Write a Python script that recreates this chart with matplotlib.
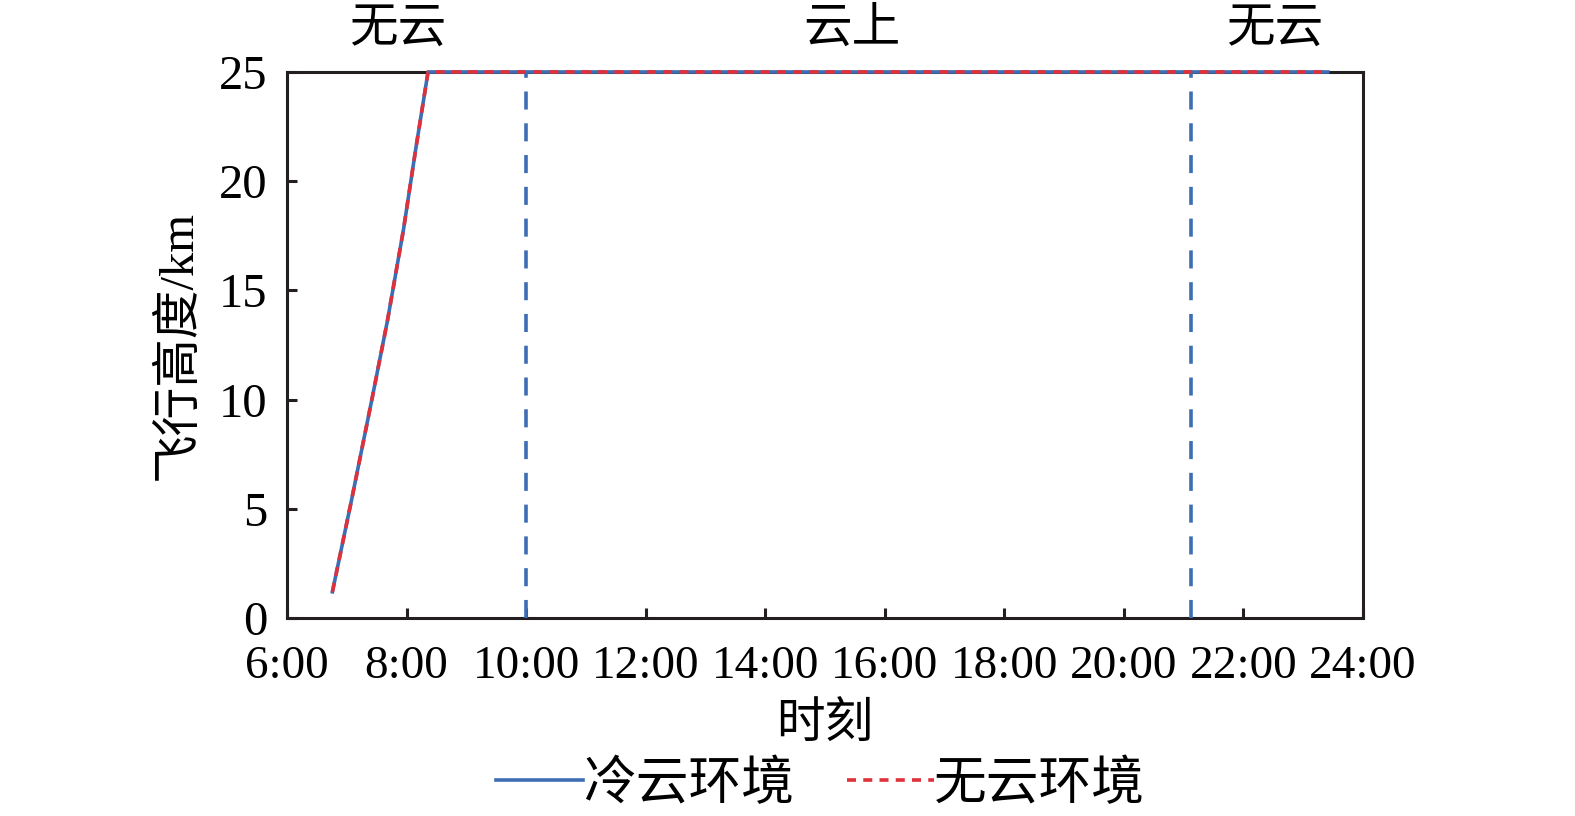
import numpy as np
import matplotlib
matplotlib.use("Agg")
import matplotlib.pyplot as plt

plt.rcParams['font.family'] = ['Liberation Serif', 'Noto Sans CJK SC']
plt.rcParams['axes.unicode_minus'] = False

# flight profile (time in hours, altitude in km)
time_h = [6.76, 7.08, 7.42, 7.68, 7.95, 8.15, 8.36, 23.41]
alt_cold = [1.2, 5.4, 10.0, 13.6, 17.8, 21.4, 25.0, 25.0]
alt_clear = [1.2, 5.4, 10.0, 13.6, 17.8, 21.4, 25.0, 25.0]

# boundaries between cloud regions
boundaries = [10.0, 21.13]
region_labels = ['无云', '云上', '无云']
region_x = [7.86, 15.45, 22.53]

xticks = [6, 8, 10, 12, 14, 16, 18, 20, 22, 24]
xticklabels = [f"{t}:00" for t in xticks]
yticks = [0, 5, 10, 15, 20, 25]

blue = '#3d6db3'
red = '#e0303a'

fig = plt.figure(figsize=(15.75, 8.16), dpi=100)
ax = fig.add_axes([0.1822, 0.2426, 0.6832, 0.6692])

ax.plot(time_h, alt_cold, color=blue, lw=2.6, ls='-', label='冷云环境',
        clip_on=False, zorder=4)
ax.plot(time_h, alt_clear, color=red, lw=2.6, ls=(0, (2.5, 2.0)), label='无云环境',
        clip_on=False, zorder=5)
for b in boundaries:
    ax.plot([b, b], [0, 25], color=blue, lw=2.6, ls=(0, (5, 3.8)), zorder=3)

ax.set_xlim(6, 24)
ax.set_ylim(0, 25)
ax.set_xticks(xticks)
ax.set_xticklabels(xticklabels)
ax.set_yticks(yticks)
ax.tick_params(direction='in', length=7, width=2.2, labelsize=35, color='#231f20')
ax.tick_params(axis='x', pad=20, labelsize=34)
ax.tick_params(axis='y', pad=14)
for s in ax.spines.values():
    s.set_linewidth(2.2)
    s.set_color('#231f20')

ax.set_xlabel('时刻', fontsize=35, va='center')
ax.xaxis.set_label_coords(0.5, -0.197)
ax.set_ylabel('飞行高度/km', fontsize=35, va='center')
ax.yaxis.set_label_coords(-0.101, 0.5)

trans = ax.get_xaxis_transform()
for x, lab in zip(region_x, region_labels):
    ax.text(x, 1.077, lab, transform=trans, ha='center', va='center', fontsize=35)

leg = fig.legend(handles=ax.get_lines()[:2], loc='center', bbox_to_anchor=(0.521, 0.038),
                 ncol=2, frameon=False, fontsize=38, handlelength=1.65,
                 handletextpad=0.0, columnspacing=1.0, borderaxespad=0)

fig.savefig('out.png', dpi=100)
